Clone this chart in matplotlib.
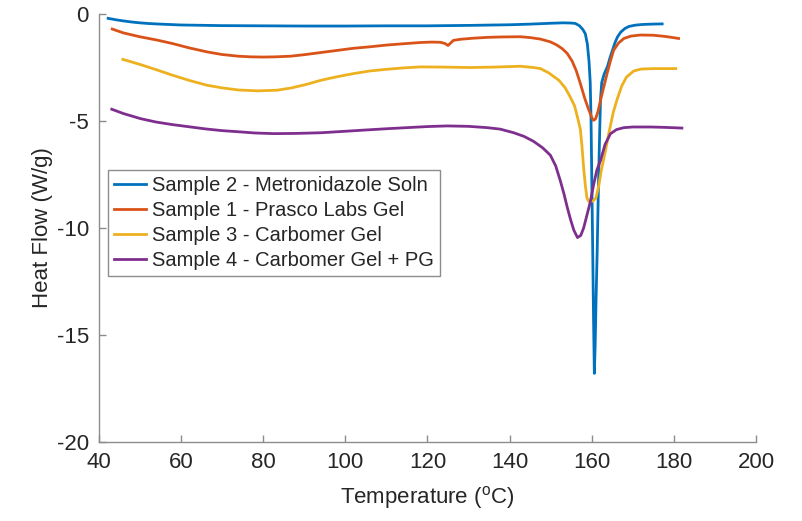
import numpy as np
from matplotlib import pyplot as plt

plt.rcParams['font.family'] = ['Liberation Sans', 'DejaVu Sans']
plt.rcParams['mathtext.default'] = 'regular'
plt.rcParams['axes.unicode_minus'] = False

labels = ["Sample 2 - Metronidazole Soln",
          "Sample 1 - Prasco Labs Gel",
          "Sample 3 - Carbomer Gel",
          "Sample 4 - Carbomer Gel + PG"]
colors = ["#0072BD", "#D95319", "#EDB120", "#7E2F8E"]

# Sample 2 - Metronidazole Soln
t_s2 = [42.3, 44, 46, 48, 50, 52, 55, 60, 70, 80, 90, 100, 110, 120, 130, 140, 145,
        150, 153, 155, 156, 157, 157.8, 158.4, 158.9, 159.3, 159.6, 159.8, 160.0,
        160.2, 160.4, 160.6, 160.8, 161.0, 161.3, 161.6, 161.9, 162.1, 162.4, 163.0,
        163.8, 164.4, 165.0, 165.6, 166.2, 167.0, 168.0, 169.0, 170.5, 172, 174.5, 177.1]
hf_s2 = [-0.2, -0.26, -0.32, -0.37, -0.41, -0.44, -0.47, -0.51, -0.54, -0.55, -0.56,
         -0.56, -0.55, -0.55, -0.53, -0.5, -0.47, -0.43, -0.41, -0.42, -0.44, -0.55,
         -0.72, -0.92, -1.4, -2.2, -3.2, -5.0, -8.0, -11.0, -14.2, -16.8, -15.5, -13.5,
         -11.0, -8.0, -5.5, -4.0, -3.2, -2.8, -2.45, -2.05, -1.7, -1.35, -1.08, -0.85,
         -0.68, -0.58, -0.52, -0.49, -0.47, -0.46]

# Sample 1 - Prasco Labs Gel
t_s1 = [43.3, 46, 50, 54.3, 58, 62, 66.4, 70, 74, 77, 80, 83, 86.7, 90, 94, 98, 102,
        106, 110, 114, 118.3, 121, 123.2, 124.3, 125.0, 125.6, 126.3, 128, 131, 134.5,
        138, 142.6, 145, 147.5, 149.9, 151.5, 152.8, 154, 155.2, 156.2, 157.2, 158.2,
        159, 159.6, 160.0, 160.4, 160.9, 161.5, 162.1, 162.9, 163.7, 164.5, 165.3,
        166.5, 167.8, 169.5, 171.8, 175, 178, 181.1]
hf_s1 = [-0.7, -0.88, -1.06, -1.22, -1.38, -1.58, -1.77, -1.89, -1.97, -2.0, -2.01,
         -2.0, -1.97, -1.9, -1.8, -1.7, -1.6, -1.53, -1.45, -1.39, -1.33, -1.31, -1.32,
         -1.38, -1.47, -1.36, -1.23, -1.18, -1.13, -1.09, -1.07, -1.06, -1.1, -1.17,
         -1.3, -1.45, -1.62, -1.84, -2.2, -2.65, -3.25, -3.9, -4.35, -4.65, -4.85,
         -4.97, -4.9, -4.55, -4.03, -3.4, -2.78, -2.2, -1.69, -1.35, -1.14, -1.03,
         -0.98, -0.99, -1.05, -1.14]

# Sample 3 - Carbomer Gel
t_s3 = [45.9, 50, 54.3, 58, 62, 66.4, 70, 74, 78.6, 83.4, 87, 90.7, 94, 98, 102.1,
        106, 110.2, 114, 118.3, 124, 130.5, 136, 142.6, 145.8, 147.5, 149.5, 152,
        153.5, 154.8, 155.8, 156.6, 157.2, 157.6, 158.0, 158.4, 158.8, 159.2, 160.2,
        161.0, 161.7, 162.3, 163.3, 164.2, 165.2, 166.2, 167.3, 168.4, 170.2, 172,
        175, 180.4]
hf_s3 = [-2.12, -2.35, -2.62, -2.86, -3.1, -3.33, -3.45, -3.55, -3.59, -3.56, -3.45,
         -3.28, -3.1, -2.93, -2.78, -2.66, -2.58, -2.52, -2.47, -2.48, -2.5, -2.48,
         -2.44, -2.5, -2.55, -2.75, -3.1, -3.45, -3.9, -4.3, -4.9, -5.4, -6.2, -7.2,
         -8.0, -8.6, -8.75, -8.75, -8.6, -8.0, -7.3, -6.4, -5.5, -4.6, -3.95, -3.35,
         -2.95, -2.66, -2.57, -2.55, -2.55]

# Sample 4 - Carbomer Gel + PG
t_s4 = [43.2, 46, 50.2, 54, 58, 62.4, 66, 70, 74.5, 78, 82.6, 88, 94, 100, 105,
        110.2, 116, 120, 124.8, 130, 134.5, 137.7, 141, 143.5, 145.8, 148, 149.9,
        151.2, 152.3, 153.2, 154, 154.8, 155.6, 156.5, 157.3, 158.0, 158.8, 159.6,
        160.4, 161.2, 162.1, 163.2, 164.5, 166, 167.8, 170, 174.3, 178, 181.9]
hf_s4 = [-4.45, -4.65, -4.89, -5.05, -5.17, -5.28, -5.37, -5.45, -5.51, -5.56, -5.59,
         -5.58, -5.55, -5.48, -5.42, -5.36, -5.3, -5.26, -5.23, -5.25, -5.31, -5.38,
         -5.55, -5.72, -5.95, -6.25, -6.6, -7.1, -7.78, -8.4, -9.03, -9.6, -10.1,
         -10.45, -10.35, -10.0, -9.4, -8.8, -8.0, -7.3, -6.85, -6.1, -5.6, -5.4,
         -5.31, -5.28, -5.28, -5.3, -5.33]

x_ticks = [40, 60, 80, 100, 120, 140, 160, 180, 200]
y_ticks = [0, -5, -10, -15, -20]

fig = plt.figure(figsize=(8.02, 5.21), dpi=100)
ax = fig.add_axes([0.123, 0.152, 0.820, 0.821])

series = [(t_s2, hf_s2), (t_s1, hf_s1), (t_s3, hf_s3), (t_s4, hf_s4)]
for (t, hf), lab, c in zip(series, labels, colors):
    ax.plot(t, hf, color=c, lw=2, label=lab)

ax.set_xlim(40, 200)
ax.set_ylim(-20, 0)
ax.set_xticks(x_ticks)
ax.set_yticks(y_ticks)

for side in ['top', 'right']:
    ax.spines[side].set_visible(False)
for side in ['left', 'bottom']:
    ax.spines[side].set_color('#8c8c8c')
    ax.spines[side].set_linewidth(1.0)
ax.tick_params(direction='in', length=5, width=1, color='#8c8c8c',
               labelsize=16, labelcolor='#262626', pad=7)

ax.set_xlabel('Temperature ($^{o}$C)', fontsize=16, color='#262626', labelpad=8)
ax.set_ylabel('Heat Flow (W/g)', fontsize=16, color='#262626', labelpad=3)

leg = ax.legend(loc='upper left', bbox_to_anchor=(0.0137, 0.636), borderaxespad=0,
                fontsize=14.5, handlelength=1.6, handletextpad=0.3,
                labelspacing=0.3, borderpad=0.3, fancybox=False, framealpha=1)
leg.get_frame().set_edgecolor('#8c8c8c')
leg.get_frame().set_linewidth(1.0)
for txt in leg.get_texts():
    txt.set_color('#262626')

fig.savefig('out.png', dpi=100)
